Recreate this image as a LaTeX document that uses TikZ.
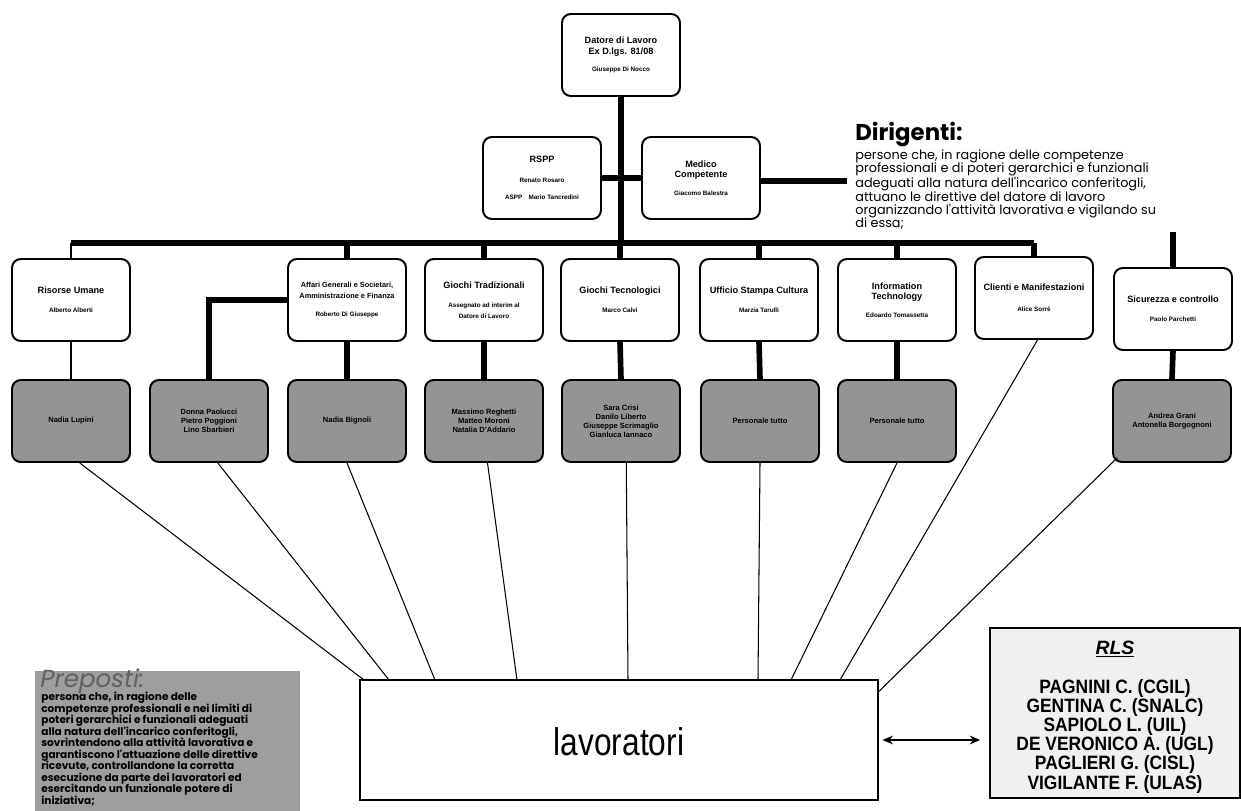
\documentclass[tikz,border=0pt]{standalone}
\usepackage{fontspec}
\setmainfont{Liberation Sans}
\newfontfamily\gothic{Poppins}
\newfontfamily\narrow[FakeStretch=0.9]{Liberation Sans}
\newfontfamily\lavfont[FakeStretch=0.82]{Liberation Sans}
\usetikzlibrary{arrows.meta}
\newcommand{\tightlines}{\setlength{\lineskiplimit}{-10pt}}
\tikzset{
  box/.style={draw, line width=1.1pt, rounded corners=5pt, fill=white, minimum width=2.36cm, minimum height=1.64cm, align=center, inner sep=1pt, font=\bfseries\fontsize{5.2}{6}\selectfont},
  gbox/.style={box, fill=black!42, font=\bfseries\fontsize{4.3}{5.1}\selectfont},
  bus/.style={line width=3.2pt},
  thinline/.style={line width=0.6pt},
}
\newcommand{\nm}[1]{{\fontsize{3.6}{4.4}\selectfont #1}}
\begin{document}
\begin{tikzpicture}[x=0.02cm,y=-0.02cm]
\useasboundingbox (0,0) rectangle (1241,811);
% top
\node[box] (top) at (621,55) {Datore di Lavoro\\Ex D.lgs. 81/08\\[4pt]\nm{Giuseppe Di Nocco}};
\node[box] (rspp) at (542,178) {RSPP\\[5pt]\nm{Renato Rosaro}\\[4pt]\nm{ASPP\quad Mario Tancredini}};
\node[box] (med) at (701,178) {Medico\\Competente\\[4pt]\nm{Giacomo Balestra}};
% row 1
\node[box] (ru) at (71,300) {Risorse Umane\\[5pt]\nm{Alberto Alberti}};
\node[box] (ag) at (347,300) {\fontsize{4.2}{5}\selectfont Affari Generali e Societari,\\\fontsize{4.2}{5}\selectfont Amministrazione e Finanza\\[4pt]\nm{Roberto Di Giuseppe}};
\node[box] (gt) at (484,300) {Giochi Tradizionali\\[5pt]\nm{Assegnato ad interim al}\\\nm{Datore di Lavoro}};
\node[box] (gtec) at (620,300) {Giochi Tecnologici\\[5pt]\nm{Marco Calvi}};
\node[box] (usc) at (759,300) {Ufficio Stampa Cultura\\[5pt]\nm{Marzia Tarulli}};
\node[box] (it) at (897,300) {Information\\Technology\\[4pt]\nm{Edoardo Tomassetta}};
\node[box] (cm) at (1034,298) {Clienti e Manifestazioni\\[6pt]\nm{Alice Sorrè}};
\node[box] (sc) at (1173,309) {Sicurezza e controllo\\[5pt]\nm{Paolo Parchetti}};
% row 2
\node[gbox] (g1) at (71,421) {Nadia Lupini};
\node[gbox] (g2) at (209,421) {Donna Paolucci\\Pietro Poggioni\\Lino Sbarbieri};
\node[gbox] (g3) at (347,421) {Nadia Bignoli};
\node[gbox] (g4) at (484,421) {Massimo Reghetti\\Matteo Moroni\\Natalia D'Addario};
\node[gbox] (g5) at (621,421) {Sara Crisi\\Danilo Liberto\\Giuseppe Scrimaglio\\Gianluca Iannaco};
\node[gbox] (g6) at (760,421) {Personale tutto};
\node[gbox] (g7) at (897,421) {Personale tutto};
\node[gbox] (g9) at (1172,421) {Andrea Grani\\Antonella Borgognoni};
% bus
\coordinate (busL) at (71,243);
\coordinate (busR) at (1034,243);
\draw[bus] (busL) -- (busR);
\draw[bus] (top.south) -- (top.south|-busL);
\draw[bus] (rspp.east) -- (med.west);
\coordinate (dirend) at (847,181);
\draw[bus] (med.east|-dirend) -- (dirend);
\foreach \n in {ag,gt,gtec,usc,it,cm} \draw[bus] (\n.north) -- (\n.north|-busL);
\draw[line width=1.4pt] (ru.north) -- (ru.north|-busL);
\coordinate (sctop) at (1173,232);
\draw[bus] (sctop) -- (sc.north);
% row1 to row2
\draw[line width=1.2pt] (ru.south) -- (g1.north);
\coordinate (agc) at (209,300);
\draw[bus] (ag.west) -- (agc) -- (g2.north);
\foreach \a/\b in {ag/g3,gt/g4,gtec/g5,usc/g6,it/g7,sc/g9} \draw[bus] (\a.south) -- (\b.north);
% lavoratori
\node[draw, line width=1.1pt, minimum width=10.36cm, minimum height=2.4cm, inner sep=0] (lav) at (619,740) {};
\node (lavt) at (619,742) {\lavfont\fontsize{22}{24}\selectfont lavoratori};
\coordinate (e1) at (364,680);
\coordinate (e2) at (389,680);
\coordinate (e3) at (435,680);
\coordinate (e4) at (517,680);
\coordinate (e5) at (628,680);
\coordinate (e6) at (758,680);
\coordinate (e7) at (791,680);
\coordinate (e8) at (840,680);
\draw[thinline] ([xshift=5pt]g1.south) -- (e1);
\draw[thinline] ([xshift=5pt]g2.south) -- (e2);
\draw[thinline] (g3.south) -- (e3);
\draw[thinline] ([xshift=2pt]g4.south) -- (e4);
\draw[thinline] ([xshift=3pt]g5.south) -- (e5);
\draw[thinline] (g6.south) -- (e6);
\draw[thinline] (g7.south) -- (e7);
\draw[thinline] ([xshift=2pt]cm.south) -- (e8);
\draw[thinline] ([xshift=3pt,yshift=3pt]g9.south west) -- ([yshift=-7pt]lav.north east);
% Dirigenti
\node[anchor=base west, inner sep=0, font=\gothic\bfseries\fontsize{13}{14}\selectfont] (dirh) at (855,141) {Dirigenti:};
\node[anchor=north west, inner sep=0, align=left, font=\gothic\fontsize{7.3}{7.6}\selectfont] (dirb) at (855,149) {persone che, in ragione delle competenze\\professionali e di poteri gerarchici e funzionali\\adeguati alla natura dell'incarico conferitogli,\\attuano le direttive del datore di lavoro\\organizzando l'attività lavorativa e vigilando su\\di essa;};
% RLS
\node[draw, line width=1.2pt, fill=black!6, minimum width=5cm, minimum height=3.4cm, inner sep=0] (rls) at (1115,713) {};
\node[anchor=base, inner sep=0, font=\bfseries\itshape\fontsize{11}{12}\selectfont] (rlsh) at (1115,654) {\underline{RLS}};
\node[anchor=north, align=center, inner sep=0, font=\narrow\bfseries\fontsize{11}{10.9}\selectfont\tightlines] (rlst) at (1115,679) {PAGNINI C. (CGIL)\\GENTINA C. (SNALC)\\SAPIOLO L. (UIL)\\DE VERONICO A. (UGL)\\PAGLIERI G. (CISL)\\VIGILANTE F. (ULAS)};
\draw[line width=0.8pt, {Stealth[length=6pt,width=5pt]}-{Stealth[length=6pt,width=5pt]}] ([xshift=2pt]lav.east) -- ([xshift=-5pt]rls.west|-lav.east);
% Preposti
\node[fill=black!38, minimum width=5.3cm, minimum height=2.8cm, anchor=north west, inner sep=0] (prep) at (35,671) {};
\node[anchor=base west, inner sep=0, text=black!62, font=\gothic\itshape\fontsize{14}{15}\selectfont] (preph) at (40,687) {Preposti:};
\node[anchor=north west, inner sep=0, align=left, font=\gothic\bfseries\fontsize{6}{6.55}\selectfont\tightlines] (prepb) at (41,692) {persona che, in ragione delle\\competenze professionali e nei limiti di\\poteri gerarchici e funzionali adeguati\\alla natura dell'incarico conferitogli,\\sovrintendono alla attività lavorativa e\\garantiscono l'attuazione delle direttive\\ricevute, controllandone la corretta\\esecuzione da parte dei lavoratori ed\\esercitando un funzionale potere di\\iniziativa;};
\end{tikzpicture}
\end{document}
